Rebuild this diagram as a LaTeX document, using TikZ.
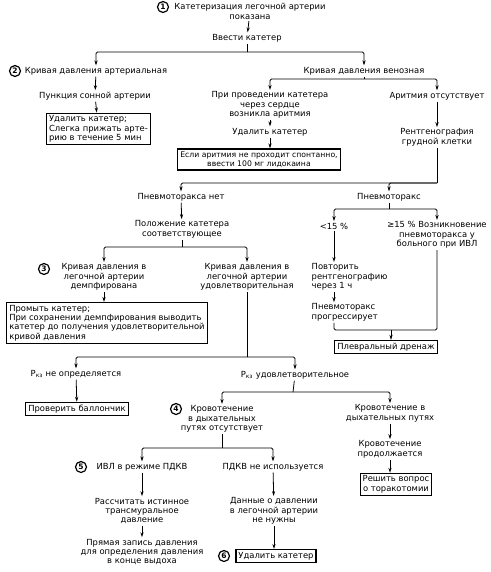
\documentclass[tikz,border=0pt]{standalone}
\usepackage{fontspec}
\setmainfont{DejaVu Sans}
\usepackage{tikz}
\usetikzlibrary{positioning,arrows.meta,calc}

\newcommand{\fsz}{\fontsize{8.4}{9.4}\selectfont}

\tikzset{
  txt/.style={align=center, inner sep=1.5pt, font=\fsz},
  ltxt/.style={align=left, inner sep=1.5pt, font=\fsz},
  boite/.style={draw, line width=1.2pt, inner sep=2.5pt, font=\fsz},
  num/.style={circle, draw, line width=1.2pt, inner sep=0pt, minimum size=11pt, font=\fontsize{7.5}{7.5}\selectfont\bfseries},
  ln/.style={line width=0.8pt, rounded corners=1.5pt},
  arr/.style={ln, -{Stealth[length=5pt,width=3.2pt]}}
}

\begin{document}
\begin{tikzpicture}[x=1pt, y=-1pt]
  \useasboundingbox (0,0) rectangle (490,572);

  % Cercles numerotes
  \foreach \n/\x/\y in {1/163/7, 2/15/71, 3/44/269, 4/176/409, 5/81/467, 6/224/556} {
    \node[num] (n\n) at (\x,\y) {\n};
  }

  % Debut
  \node[txt] (kat) at (250,11.5) {Катетеризация легочной артерии\\показана};
  \node[txt] (vvesti) at (247,38) {Ввести катетер};
  \coordinate (b1) at (247,52);
  \node[txt] (art) at (96,71) {Кривая давления артериальная};
  \node[txt] (ven) at (364,71) {Кривая давления венозная};
  \draw[arr] (kat) -- (vvesti);
  \draw[ln] (vvesti) -- (b1);
  \draw[arr] (b1) -| (art.north);
  \draw[arr] (b1) -| (ven.north);

  % Branche arterielle
  \node[txt] (pun) at (95,96) {Пункция сонной артерии};
  \node[boite, align=left] (udal0) at (98.5,129) {Удалить катетер;\\Слегка прижать арте-\\рию в течение 5 мин};
  \draw[arr] (art) -- (pun);
  \draw[arr] (pun) -- (udal0);

  % Branche veineuse
  \coordinate (b2) at (364,79);
  \node[txt] (pri) at (270,105) {При проведении катетера\\через сердце\\возникла аритмия};
  \node[txt] (arit) at (437,96) {Аритмия отсутствует};
  \draw[ln] (ven) -- (b2);
  \draw[arr] (b2) -| (pri.north);
  \draw[arr] (b2) -| (arit.north);
  \node[txt] (udal1) at (270,132) {Удалить катетер};
  \node[boite, align=center, font=\fontsize{7.7}{9.4}\selectfont] (lido) at (259,159.5) {Если аритмия не проходит спонтанно,\\ввести 100 мг лидокаина};
  \draw[arr] (pri) -- (udal1);
  \draw[arr] (udal1) -- (udal1 |- lido.north);
  \node[txt] (rent) at (437,137.5) {Рентгенография\\грудной клетки};
  \draw[arr] (arit) -- (rent);

  % Pneumothorax
  \coordinate (b3) at (437,183);
  \node[txt] (pnet) at (181,197) {Пневмоторакса нет};
  \node[txt] (pnev) at (389,197) {Пневмоторакс};
  \draw[ln] (rent) -- (b3);
  \draw[arr] (b3) -| (pnet.north);
  \draw[arr] (b3) -| (pnev.north);

  \node[txt] (pol) at (182,229.5) {Положение катетера\\соответствующее};
  \draw[arr] (pnet) -- (pol);
  \coordinate (b4) at (182,247);
  \node[txt] (dem) at (104,277) {Кривая давления в\\легочной артерии\\демпфирована};
  \node[txt] (udov) at (247,277) {Кривая давления в\\легочной артерии\\удовлетворительная};
  \draw[ln] (pol) -- (b4);
  \draw[arr] (b4) -| (dem.north);
  \draw[arr] (b4) -| (udov.north);

  \coordinate (b5) at (389,209);
  \node[txt] (lt15) at (334,226) {<15 \%};
  \node[txt] (ge15) at (437,235) {≥15 \% Возникновение\\пневмоторакса у\\больного при ИВЛ};
  \draw[ln] (pnev) -- (b5);
  \draw[arr] (b5) -| (lt15.north);
  \draw[arr] (b5) -| (ge15.north);

  \node[ltxt, anchor=west] (povt) at (310,277) {Повторить\\рентгенографию\\через 1 ч};
  \node[ltxt, anchor=west] (progr) at (310,312.5) {Пневмоторакс\\прогрессирует};
  \draw[arr] (lt15) -- (lt15 |- povt.north);
  \draw[arr] (lt15 |- povt.south) -- (lt15 |- progr.north);
  \coordinate (b6) at (391,330);
  \node[boite] (pleur) at (386,347) {Плевральный дренаж};
  \draw[ln] (lt15 |- progr.south) |- (b6) -| (ge15.south);
  \draw[arr] (b6) -- (b6 |- pleur.north);

  % Courbe amortie
  \node[boite, align=left] (prom) at (107,323) {Промыть катетер;\\При сохранении демпфирования выводить\\катетер до получения удовлетворительной\\кривой давления};
  \draw[arr] (dem) -- (dem |- prom.north);

  % Pression capillaire
  \coordinate (b7) at (247,357);
  \node[txt] (pne) at (76,374) {P\textsubscript{кз} не определяется};
  \node[txt] (pud) at (295,375) {P\textsubscript{кз} удовлетворительное};
  \draw[ln] (udov) -- (b7);
  \draw[arr] (b7) -| (pne.north);
  \draw[arr] (b7) -| (pud.north);
  \node[boite] (prov) at (77,409) {Проверить баллончик};
  \draw[arr] (pne) -- (prov);

  % Hemorragie
  \coordinate (b8) at (293,392);
  \node[txt] (kro1) at (222,419) {Кровотечение\\в дыхательных\\путях отсутствует};
  \node[txt] (kro2) at (390,413.5) {Кровотечение в\\дыхательных путях};
  \draw[ln] (pud) -- (b8);
  \draw[arr] (b8) -| (kro1.north);
  \draw[arr] (b8) -| (kro2.north);
  \node[txt] (kro3) at (390,449.5) {Кровотечение\\продолжается};
  \node[boite, align=center] (resh) at (396,484.5) {Решить вопрос\\о торакотомии};
  \draw[arr] (kro2) -- (kro3);
  \draw[arr] (kro3) -- (kro3 |- resh.north);

  % PEEP
  \coordinate (b9) at (222,448);
  \node[txt] (ivl) at (142,467) {ИВЛ в режиме ПДКВ};
  \node[txt] (pdkv) at (273,467) {ПДКВ не используется};
  \draw[ln] (kro1) -- (b9);
  \draw[arr] (b9) -| (ivl.north);
  \draw[arr] (b9) -| (pdkv.north);
  \node[txt] (rass) at (142,511) {Рассчитать истинное\\трансмуральное\\давление};
  \node[txt] (pryam) at (142,552) {Прямая запись давления\\для определения давления\\в конце выдоха};
  \draw[arr] (ivl) -- (rass);
  \draw[arr] (rass) -- (pryam);
  \node[txt] (dann) at (274,511) {Данные о давлении\\в легочной артерии\\не нужны};
  \node[boite] (udal2) at (276,556) {Удалить катетер};
  \draw[arr] (pdkv) -- (dann);
  \draw[arr] (dann) -- (dann |- udal2.north);
\end{tikzpicture}
\end{document}
